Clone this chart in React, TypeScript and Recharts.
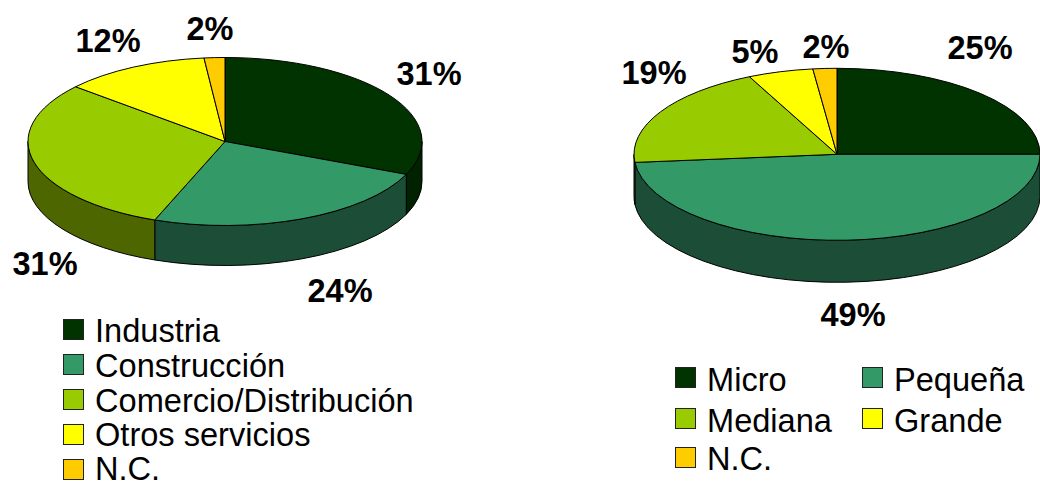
import React from "react";
import { PieChart, Pie, Legend } from "recharts";

// sectores (los porcentajes de la imagen van redondeados)
const sectorNames = ["Industria", "Construcción", "Comercio/Distribución", "Otros servicios", "N.C."];
const sectorValues = [31.4, 24.4, 30.5, 12.0, 1.7];
const sizeNames = ["Micro", "Pequeña", "Mediana", "Grande", "N.C."];
const sizeValues = [25, 48.5, 19.4, 5.2, 1.9];

const topColors = ["#003300", "#339966", "#99CC00", "#FFFF00", "#FFCC00"];
const wallColors = ["#002200", "#1C4D36", "#4D6600", "#808000", "#806600"];

const FONT = "'Liberation Sans', Arial, sans-serif";

const leftLabelPos = [[429, 74], [340, 291], [45, 264], [108, 41], [210, 29]];
const rightLabelPos = [[980, 48], [853, 315], [654, 73], [755, 52], [826, 47]];

// x, y del cuadrito y ajuste vertical del texto
const leftLegendPos = [[63, 319, -0.6], [63, 354, -1.1], [63, 389, -1.1], [63, 424, -1.8], [63, 459, -3.5]];
const rightLegendPos = [[675, 367, 0.2], [862, 367, 0.2], [675, 408, 0.2], [862, 408, 0.2], [675, 447, -0.8]];

const toRows = (names: string[], values: number[], colors: string[]) =>
  names.map((name, i) => ({ name, value: values[i], fill: colors[i] }));

const point = (cx: number, cy: number, rx: number, ry: number, deg: number) => {
  const t = (deg * Math.PI) / 180;
  return [cx + rx * Math.sin(t), cy - ry * Math.cos(t)];
};

// cara superior: sector de elipse en vez de circulo
const topShape = (ry: number) => (props: any) => {
  const { cx, cy, outerRadius: rx, startAngle, endAngle, fill } = props;
  const a = 90 - startAngle;
  const b = 90 - endAngle;
  const p0 = point(cx, cy, rx, ry, a);
  const p1 = point(cx, cy, rx, ry, b);
  const large = b - a > 180 ? 1 : 0;
  const d = `M${cx},${cy} L${p0[0]},${p0[1]} A${rx},${ry} 0 ${large} 1 ${p1[0]},${p1[1]} Z`;
  return <path d={d} fill={fill} stroke="#000" strokeWidth={1} strokeLinejoin="round" />;
};

// pared lateral: solo la mitad delantera se ve
const wallShape = (ry: number, depth: number) => (props: any) => {
  const { cx, cy, outerRadius: rx, startAngle, endAngle, fill } = props;
  const a = Math.max(90 - startAngle, 90);
  const b = Math.min(90 - endAngle, 270);
  if (b <= a) return <g />;
  const p0 = point(cx, cy, rx, ry, a);
  const p1 = point(cx, cy, rx, ry, b);
  const d =
    `M${p0[0]},${p0[1]} A${rx},${ry} 0 0 1 ${p1[0]},${p1[1]} ` +
    `L${p1[0]},${p1[1] + depth} A${rx},${ry} 0 0 0 ${p0[0]},${p0[1] + depth} Z`;
  return <path d={d} fill={fill} stroke="#000" strokeWidth={1} strokeLinejoin="round" />;
};

const percentLabel = (names: string[], positions: number[][]) => (props: any) => {
  const idx = names.indexOf(props.name);
  const pos = positions[props.index ?? idx];
  if (!pos) return <g />;
  return (
    <text x={pos[0]} y={pos[1]} textAnchor="middle" dominantBaseline="central" fill="#000" stroke="none"
      fontFamily={FONT} fontWeight="bold" fontSize={32.5}>
      {Math.round(props.value)}%
    </text>
  );
};

const legendContent = (positions: number[][]) => (props: any) => {
  const items = (props.payload || []).filter((item: any) => item.type !== "none").slice(-positions.length);
  return (
    <div style={{ position: "relative", width: 1040, height: 481, fontFamily: FONT, fontSize: 32.6, color: "#000" }}>
      {items.map((item: any, i: number) => (
        <div key={i} style={{ position: "absolute", left: positions[i][0], top: positions[i][1], display: "flex", alignItems: "center", height: 21, whiteSpace: "nowrap" }}>
          <span style={{ width: 21, height: 21, boxSizing: "border-box", border: "1.5px solid #222", background: item.color, marginRight: 11 }} />
          <span style={{ lineHeight: "21px", position: "relative", top: 2 + positions[i][2] }}>{item.value}</span>
        </div>
      ))}
    </div>
  );
};

type PieProps = {
  names: string[];
  values: number[];
  cx: number;
  cy: number;
  rx: number;
  ry: number;
  depth: number;
  labelPos: number[][];
  legendPos: number[][];
};

const Pie3D: React.FC<PieProps> = ({ names, values, cx, cy, rx, ry, depth, labelPos, legendPos }) => {
  const top = topShape(ry);
  const wall = wallShape(ry, depth);
  return (
    <div style={{ position: "absolute", left: 0, top: 0 }}>
      <PieChart width={1040} height={481} margin={{ top: 0, right: 0, bottom: 0, left: 0 }}>
        <Pie data={toRows(names, values, wallColors)} dataKey="value" nameKey="name" cx={cx} cy={cy}
          outerRadius={rx} startAngle={90} endAngle={-270} legendType="none"
          shape={wall} isAnimationActive={false} />
        <Pie data={toRows(names, values, topColors)} dataKey="value" nameKey="name" cx={cx} cy={cy}
          outerRadius={rx} startAngle={90} endAngle={-270}
          shape={top} label={percentLabel(names, labelPos)} labelLine={false} isAnimationActive={false} />
        <Legend itemSorter={null} content={legendContent(legendPos)} wrapperStyle={{ left: 0, top: 0, bottom: "auto", width: 1040, height: 481 }} />
      </PieChart>
    </div>
  );
};

export default function App() {
  return (
    <div style={{ position: "absolute", left: 0, top: 0, width: 1040, height: 481, background: "#fff", overflow: "hidden" }}>
      <Pie3D names={sectorNames} values={sectorValues} cx={225} cy={141.5} rx={197} ry={84} depth={40}
        labelPos={leftLabelPos} legendPos={leftLegendPos} />
      <Pie3D names={sizeNames} values={sizeValues} cx={837} cy={154.3} rx={203} ry={86} depth={42}
        labelPos={rightLabelPos} legendPos={rightLegendPos} />
    </div>
  );
}
